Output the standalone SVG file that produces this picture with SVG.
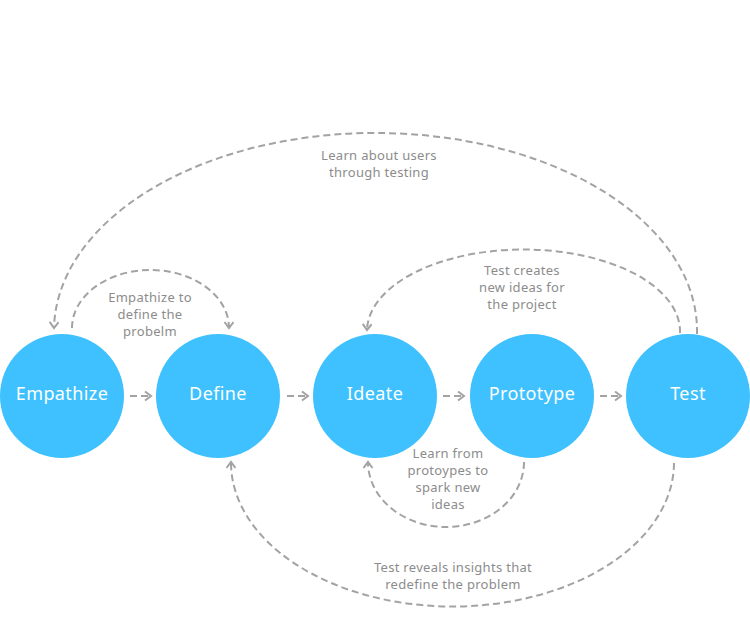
<svg xmlns="http://www.w3.org/2000/svg" width="750" height="640" viewBox="0 0 750 640">
<style>
.node{fill:#3ec1fe}
.nl{font-family:"Noto Sans","Liberation Sans",sans-serif;font-size:18px;letter-spacing:0.4px;fill:#fff;text-anchor:middle}
.lb{font-family:"Noto Sans","Liberation Sans",sans-serif;font-size:13px;letter-spacing:0.3px;fill:#8c8c8c;text-anchor:middle}
.c{fill:none;stroke:#a3a3a3;stroke-width:2;stroke-dasharray:7 4;marker-end:url(#ah)}
</style>
<defs>
<marker id="ah" markerUnits="userSpaceOnUse" markerWidth="14" markerHeight="14" refX="7" refY="5" orient="auto" viewBox="0 0 14 14">
<path d="M1,0.5 L7,5 L1,9.5" fill="none" stroke="#a3a3a3" stroke-width="2"/>
</marker>
</defs>
<rect width="750" height="640" fill="#fff"/>
<g id="connectors">
<path class="c" d="M130 396 H151"/>
<path class="c" d="M287 396 H308"/>
<path class="c" d="M443 396 H464"/>
<path class="c" d="M600 396 H621"/>
<path class="c" d="M697 334 A321.5 198 0 0 0 54 328"/>
<path class="c" d="M72 328 A78.5 58 0 0 1 229 328"/>
<path class="c" d="M680 333 A156.5 82 0 0 0 367 330"/>
<path class="c" d="M524 462 A78 65 0 0 1 368 462"/>
<path class="c" d="M674 463 A221.5 144 0 0 1 231 462"/>
<text class="lb" x="379" y="160">Learn about users</text>
<text class="lb" x="379" y="177">through testing</text>
<text class="lb" x="150" y="302">Empathize to</text>
<text class="lb" x="150" y="319">define the</text>
<text class="lb" x="150" y="336">probelm</text>
<text class="lb" x="522" y="275">Test creates</text>
<text class="lb" x="522" y="292">new ideas for</text>
<text class="lb" x="522" y="309">the project</text>
<text class="lb" x="448" y="458">Learn from</text>
<text class="lb" x="448" y="475">protoypes to</text>
<text class="lb" x="448" y="492">spark new</text>
<text class="lb" x="448" y="509">ideas</text>
<text class="lb" x="453" y="572">Test reveals insights that</text>
<text class="lb" x="453" y="589">redefine the problem</text>
</g>
<g id="empathize"><circle class="node" cx="62" cy="396" r="62"/><text class="nl" x="62" y="400">Empathize</text></g>
<g id="define"><circle class="node" cx="218" cy="396" r="62"/><text class="nl" x="218" y="400">Define</text></g>
<g id="ideate"><circle class="node" cx="375" cy="396" r="62"/><text class="nl" x="375" y="400">Ideate</text></g>
<g id="prototype"><circle class="node" cx="532" cy="396" r="62"/><text class="nl" x="532" y="400">Prototype</text></g>
<g id="test"><circle class="node" cx="688" cy="396" r="62"/><text class="nl" x="688" y="400">Test</text></g>
</svg>
